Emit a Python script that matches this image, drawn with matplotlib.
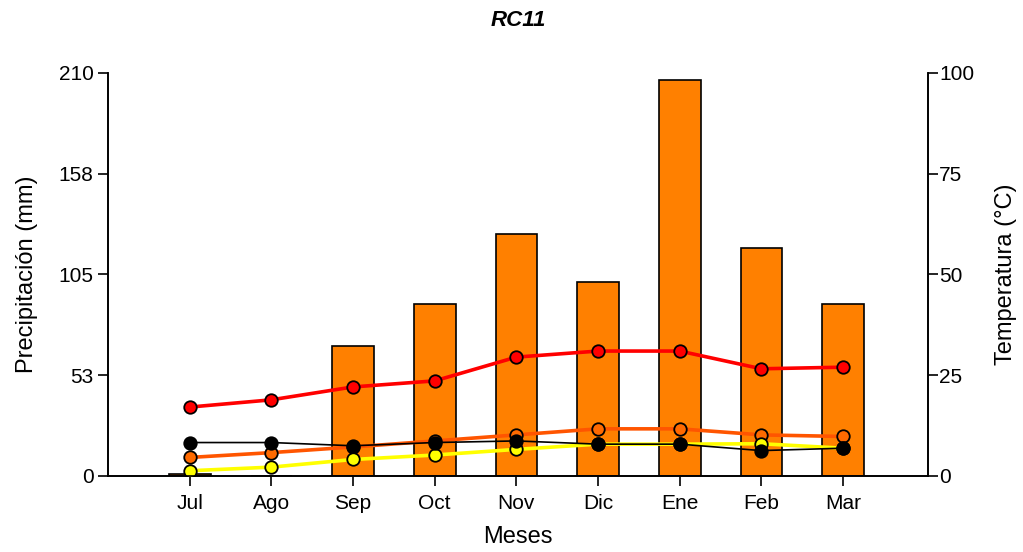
import numpy as np
import matplotlib.pyplot as plt

plt.rcParams['font.family'] = ['Liberation Sans', 'DejaVu Sans']

meses = ["Jul", "Ago", "Sep", "Oct", "Nov", "Dic", "Ene", "Feb", "Mar"]
precip = [1.0, 0.0, 67.7, 89.6, 126.1, 101.1, 206.4, 118.8, 89.6]
t_max = [17.1, 18.9, 22.1, 23.6, 29.5, 31.0, 31.0, 26.6, 27.0]
t_media = [4.6, 5.8, 7.2, 8.7, 10.2, 11.7, 11.7, 10.2, 9.8]
t_min = [1.3, 2.2, 4.1, 5.2, 6.6, 7.9, 7.9, 8.0, 6.9]
t_otra = [8.3, 8.3, 7.5, 8.3, 8.7, 7.9, 7.9, 6.3, 6.9]

left_ticks = [0, 52.5, 105, 157.5, 210]
left_labels = ["0", "53", "105", "158", "210"]
right_ticks = [0, 25, 50, 75, 100]

x = np.arange(len(meses))

fig = plt.figure(figsize=(10.23, 5.52), dpi=100)
ax = fig.add_axes([0.1056, 0.1377, 0.8015, 0.7301])
ax.bar(x, precip, width=0.51, color="#FF8000", edgecolor="black", linewidth=1.2, zorder=2)
ax.set_xlim(-1, 9.04)
ax.set_ylim(0, 210)
ax.set_yticks(left_ticks)
ax.set_yticklabels(left_labels)
ax.set_xticks(x)
ax.set_xticklabels(meses)
ax.set_ylabel("Precipitación (mm)", fontsize=17, labelpad=15)
ax.set_xlabel("Meses", fontsize=17, labelpad=9)
ax.set_title("RC11", fontsize=16, fontweight="bold", fontstyle="italic", pad=34)
ax.spines["top"].set_visible(False)
ax.tick_params(axis="both", labelsize=15, width=1.2, length=7, direction="out")
ax.tick_params(axis="x", pad=6)

ax2 = ax.twinx()
ax2.set_ylim(0, 100)
ax2.set_yticks(right_ticks)
ax2.spines["top"].set_visible(False)
ax2.tick_params(axis="y", labelsize=15, width=1.2, length=7, direction="out", pad=1)
ax2.set_ylabel("Temperatura (°C)", fontsize=17, labelpad=15)

mk = dict(marker="o", markersize=9, markeredgecolor="black", markeredgewidth=1.3)
ax2.plot(x, t_max, color="#FF0000", linewidth=2.6, markerfacecolor="#FF0000", **mk)
ax2.plot(x, t_media, color="#FF5500", linewidth=2.6, markerfacecolor="#FF6A00", **mk)
ax2.plot(x, t_min, color="#FFFF00", linewidth=2.6, markerfacecolor="#FFFF00", **mk)
ax2.plot(x, t_otra, color="black", linewidth=1.2, markerfacecolor="black", **mk)

for spine in ("left", "right", "bottom"):
    ax.spines[spine].set_linewidth(1.2)
    ax2.spines[spine].set_linewidth(1.2)

fig.savefig("out.png", dpi=100)
